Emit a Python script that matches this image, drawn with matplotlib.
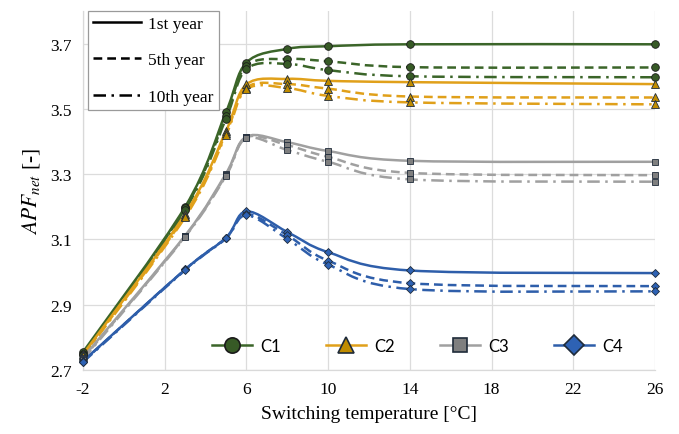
import numpy as np
import matplotlib
matplotlib.use("Agg")
import matplotlib.pyplot as plt
from matplotlib.path import Path
from matplotlib.patches import PathPatch
from matplotlib.lines import Line2D

# switching temperatures [°C]
temps = [-2, 3, 5, 6, 8, 10, 14, 26]

# APF_net per case: 1st, 5th, 10th year
c1_y1 = [2.755, 3.200, 3.490, 3.642, 3.684, 3.692, 3.698, 3.698]
c1_y5 = [2.750, 3.195, 3.478, 3.632, 3.653, 3.646, 3.628, 3.627]
c1_y10 = [2.745, 3.190, 3.470, 3.622, 3.638, 3.619, 3.600, 3.597]

c2_y1 = [2.748, 3.178, 3.432, 3.575, 3.592, 3.586, 3.582, 3.576]
c2_y5 = [2.745, 3.172, 3.425, 3.565, 3.576, 3.562, 3.538, 3.535]
c2_y10 = [2.742, 3.168, 3.420, 3.560, 3.564, 3.540, 3.520, 3.514]

c3_y1 = [2.738, 3.112, 3.302, 3.415, 3.398, 3.371, 3.341, 3.338]
c3_y5 = [2.735, 3.110, 3.298, 3.413, 3.389, 3.353, 3.304, 3.297]
c3_y10 = [2.732, 3.108, 3.295, 3.410, 3.374, 3.338, 3.284, 3.277]

c4_y1 = [2.727, 3.008, 3.105, 3.186, 3.123, 3.061, 3.005, 2.997]
c4_y5 = [2.726, 3.008, 3.105, 3.178, 3.113, 3.035, 2.966, 2.957]
c4_y10 = [2.724, 3.006, 3.103, 3.174, 3.102, 3.023, 2.948, 2.941]

cases = ["C1", "C2", "C3", "C4"]
years = ["1st year", "5th year", "10th year"]
xticks = [-2, 2, 6, 10, 14, 18, 22, 26]
yticks = [2.7, 2.9, 3.1, 3.3, 3.5, 3.7]

series = {
    "C1": [c1_y1, c1_y5, c1_y10],
    "C2": [c2_y1, c2_y5, c2_y10],
    "C3": [c3_y1, c3_y5, c3_y10],
    "C4": [c4_y1, c4_y5, c4_y10],
}
style = {
    "C1": dict(line="#3b6529", face="#375a26", edge="#1a1a1a", marker="o", ms=5.5, lms=11),
    "C2": dict(line="#e0a01a", face="#c08c00", edge="#1f2b3a", marker="^", ms=6, lms=12),
    "C3": dict(line="#a0a0a0", face="#7f7f7f", edge="#1f2b3a", marker="s", ms=5, lms=10),
    "C4": dict(line="#2e5eaa", face="#2e62b4", edge="#1f2b3a", marker="D", ms=4.5, lms=10),
}
dashes = ["-", (0, (3.5, 2)), (0, (5, 2.2, 1, 2.2))]

serif = ["Liberation Serif", "DejaVu Serif"]
plt.rcParams["mathtext.fontset"] = "stix"


def smooth_path(x, y):
    # Catmull-Rom style cubic Bezier through the points (Excel-like smoothing)
    x = np.asarray(x, float)
    y = np.asarray(y, float)
    pts = np.column_stack([x, y])
    n = len(pts)
    verts = [pts[0]]
    codes = [Path.MOVETO]
    for i in range(n - 1):
        p0 = pts[i - 1] if i > 0 else pts[i]
        p1 = pts[i]
        p2 = pts[i + 1]
        p3 = pts[i + 2] if i + 2 < n else pts[i + 1]
        c1 = p1 + (p2 - p0) / 6.0
        c2 = p2 - (p3 - p1) / 6.0
        verts += [c1, c2, p2]
        codes += [Path.CURVE4] * 3
    return Path(verts, codes)


fig = plt.figure(figsize=(6.79, 4.35), dpi=100)
ax = fig.add_axes([0.1222, 0.1471, 0.8425, 0.8253])

for case in cases:
    st = style[case]
    for k, vals in enumerate(series[case]):
        patch = PathPatch(smooth_path(temps, vals), fill=False, edgecolor=st["line"],
                          lw=1.8, linestyle=dashes[k], zorder=3, capstyle="butt")
        ax.add_patch(patch)
        ax.plot(temps, vals, linestyle="none", marker=st["marker"], ms=st["ms"],
                mfc=st["face"], mec=st["edge"], mew=0.6, zorder=4, clip_on=False)

ax.set_xlim(-2, 26)
ax.set_ylim(2.7, 3.8)
ax.set_xticks(xticks)
ax.set_yticks(yticks)
ax.set_xticklabels([str(t) for t in xticks], family=serif, fontsize=12.5)
ax.set_yticklabels([f"{t:.1f}" for t in yticks], family=serif, fontsize=12.5)
ax.tick_params(length=0, pad=8)
ax.grid(True, color="#dcdcdc", lw=0.9)
ax.set_axisbelow(True)
for side, sp in ax.spines.items():
    sp.set_color("#d9d9d9")
    sp.set_linewidth(0.9)
ax.spines["top"].set_visible(False)
ax.spines["right"].set_visible(False)

ax.set_xlabel("Switching temperature [°C]", family=serif, fontsize=14, labelpad=6)
ax.set_ylabel(r"$APF_{net}$ [-]", family=serif, fontsize=15.5, labelpad=6)

# line-style legend (years)
year_handles = [Line2D([], [], color="black", lw=1.8, linestyle=d) for d in dashes]
leg1 = ax.legend(year_handles, years, loc="upper left", bbox_to_anchor=(0.008, 1.0),
                 prop=dict(family=serif, size=12.5), handlelength=2.8, handletextpad=0.4,
                 labelspacing=1.15, borderpad=0.3, borderaxespad=0.0, fancybox=False,
                 framealpha=1, edgecolor="#9a9a9a")
leg1.get_frame().set_linewidth(0.9)
ax.add_artist(leg1)

# case legend (markers)
case_handles = [Line2D([], [], color=style[c]["line"], lw=1.8, marker=style[c]["marker"],
                       ms=style[c]["lms"], mfc=style[c]["face"], mec=style[c]["edge"], mew=1.2)
                for c in cases]
ax.legend(case_handles, cases, loc="center", bbox_to_anchor=(0.585, 0.068), ncol=4,
          prop=dict(family="Lato", size=12), handlelength=2.4, handletextpad=0.5,
          columnspacing=2.7, frameon=False)

fig.savefig("out.png", dpi=100)
